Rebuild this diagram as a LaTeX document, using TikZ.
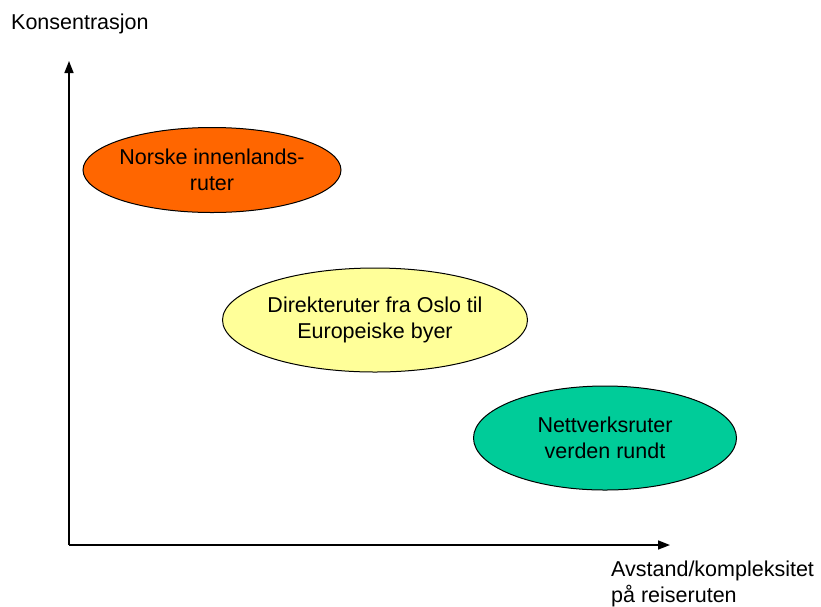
\documentclass[tikz,border=0pt]{standalone}
\usepackage{fontspec}
\setmainfont{Liberation Sans}
\usetikzlibrary{shapes.geometric,arrows.meta}
\definecolor{orangeF}{HTML}{FF6600}
\definecolor{yellowF}{HTML}{FFFF99}
\definecolor{greenF}{HTML}{00CC99}
\tikzset{
  lbl/.style={font=\fontsize{21.5}{25.5}\selectfont, inner sep=0pt, align=center},
  blob/.style={lbl, ellipse, draw=black, line width=1pt, inner sep=-12pt},
  axis/.style={line width=1.5pt, -{Triangle[length=12pt,width=9pt]}}
}
\begin{document}
\begin{tikzpicture}[x=1pt,y=-1pt]
\useasboundingbox (0,0) rectangle (821,606);
\coordinate (o) at (69,545);
\coordinate (ytop) at (69,61);
\coordinate (xend) at (670,545);
\draw[axis] (o) -- (ytop);
\draw[axis] (o) -- (xend);
\node[lbl, anchor=base west] (ylab) at (11,29) {Konsentrasjon};
\node[lbl, align=left, anchor=west] (xlab) at (611,584) {Avstand/kompleksitet\\på reiseruten};
\node[blob, fill=orangeF, minimum width=258pt, minimum height=85pt] (e1) at (212,170) {Norske innenlands-\\ruter};
\node[blob, fill=yellowF, minimum width=305pt, minimum height=104pt] (e2) at (375,320) {Direkteruter fra Oslo til\\Europeiske byer};
\node[blob, fill=greenF, minimum width=263pt, minimum height=104pt] (e3) at (605,438) {Nettverksruter\\verden rundt};
\end{tikzpicture}
\end{document}
